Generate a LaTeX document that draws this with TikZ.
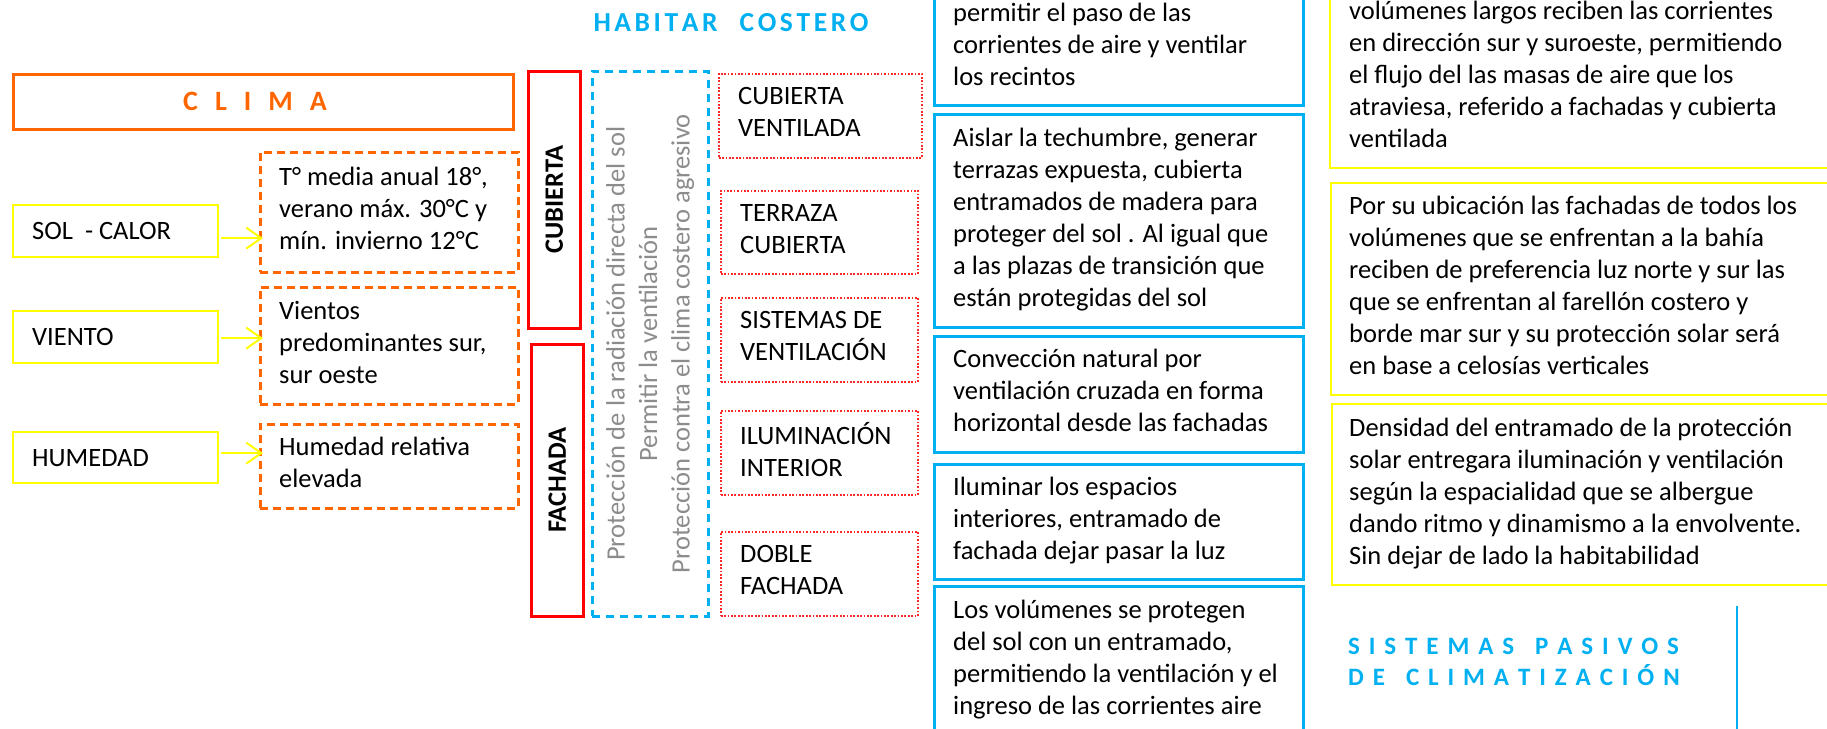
\documentclass[tikz,border=0pt]{standalone}
\usepackage{fontspec}
\setmainfont{Carlito}
\usetikzlibrary{arrows.meta,calc}
\definecolor{cblue}{RGB}{0,176,240}
\definecolor{corange}{RGB}{255,102,0}
\definecolor{cyellow}{RGB}{255,255,0}
\definecolor{cred}{RGB}{255,0,0}
\definecolor{cdot}{RGB}{255,40,40}
\definecolor{cgrey}{RGB}{140,140,140}
\newcommand\bodyfont{\fontsize{26.5}{32}\selectfont}
\newcommand\tk[1]{\kern#1pt\relax}
\tikzset{
  box/.style={draw, inner sep=0pt, anchor=north west, rectangle},
  climabox/.style={box, draw=corange, line width=2.5pt},
  dashbox/.style={box, draw=corange, line width=2.5pt, dash pattern=on 8pt off 5pt},
  ybox/.style={box, draw=cyellow, line width=2.2pt},
  rbox/.style={box, draw=cred, line width=2.5pt},
  bdash/.style={box, draw=cblue, line width=2.5pt, dash pattern=on 8pt off 6pt},
  dotbox/.style={box, draw=cdot, line width=1.7pt, dash pattern=on 1.7pt off 1.7pt},
  bbox/.style={box, draw=cblue, line width=3pt},
  txt/.style={anchor=west, inner sep=0pt, align=left, font=\bodyfont,
    execute at begin node=\strut, execute at end node=\strut},
  arr/.style={draw=cyellow, line width=2pt, shorten >=-4pt,
    -{Straight Barb[length=15pt,width=21pt,line width=2pt]}},
}
\begin{document}
\begin{tikzpicture}[x=1pt,y=-1pt]
\useasboundingbox (0,0) rectangle (1827,728);
\fill[white] (0,0) rectangle (1827,728);
\clip (0,0) rectangle (1827,728);

% titles
\node[font=\bfseries\fontsize{27.5}{32}\selectfont, text=cblue, inner sep=0pt] (habitar) at (731,23)
  {H\tk{3.6}A\tk{3.6}B\tk{3.6}I\tk{3.6}T\tk{3.6}A\tk{3.6}R\tk{22}C\tk{3.6}O\tk{3.6}S\tk{3.6}T\tk{3.6}E\tk{3.6}R\tk{3.6}O};

% CLIMA
\node[climabox, minimum width=500, minimum height=55] (clima) at (12,73) {};
\node[font=\bfseries\fontsize{28}{32}\selectfont, text=corange, inner sep=0pt] (climat) at (255,101)
  {C\tk{17}L\tk{17}I\tk{17}M\tk{17}A};

% left yellow boxes
\node[ybox, minimum width=205, minimum height=52] (sol) at (12,204) {};
\node[txt] (solt) at ([xshift=20pt,yshift=-2pt]sol.west) {SOL~~- CALOR};
\node[ybox, minimum width=205, minimum height=52] (viento) at (12,310) {};
\node[txt] (vientot) at ([xshift=20pt,yshift=-2pt]viento.west) {VIENTO};
\node[ybox, minimum width=205, minimum height=51] (humedad) at (12,431) {};
\node[txt] (humedadt) at ([xshift=20pt,yshift=-2pt]humedad.west) {HUMEDAD};

% orange dashed boxes
\node[dashbox, minimum width=258, minimum height=120] (tbox) at (259,151) {};
\node[txt] (tboxt) at ([xshift=20pt,yshift=-1pt]tbox.west) {T° media anual 18°,\\verano máx. 30°C y\\mín. invierno 12°C};
\node[dashbox, minimum width=258, minimum height=117] (vbox) at (259,286) {};
\node[txt] (vboxt) at ([xshift=20pt,yshift=-1pt]vbox.west) {Vientos\\predominantes sur,\\sur oeste};
\node[dashbox, minimum width=258, minimum height=84] (hbox) at (259,423) {};
\node[txt] (hboxt) at ([xshift=20pt,yshift=-1pt]hbox.west) {Humedad relativa\\elevada};

% arrows
\draw[arr] ([xshift=2pt,yshift=-7pt]sol.east) -- ([yshift=-7pt]sol.east -| tbox.west);
\draw[arr] ([xshift=2pt,yshift=-1pt]viento.east) -- ([yshift=-1pt]viento.east -| vbox.west);
\draw[arr] ([xshift=2pt,yshift=4.5pt]humedad.east) -- ([yshift=4.5pt]humedad.east -| hbox.west);

% red boxes
\node[rbox, minimum width=52, minimum height=257] (cub) at (527,70) {};
\node[rotate=90, font=\bfseries\bodyfont, inner sep=0pt] (cubt) at (cub.center) {CUBIERTA};
\node[rbox, minimum width=52, minimum height=272] (fach) at (530,343) {};
\node[rotate=90, font=\bfseries\bodyfont, inner sep=0pt] (facht) at (fach.center) {FACHADA};

% blue dashed box with grey text
\node[bdash, minimum width=116, minimum height=545] (bd) at (591,70) {};
\node[rotate=90, align=center, font=\fontsize{26.5}{32.5}\selectfont, text=cgrey, inner sep=0pt] (bdt) at (bd.center)
  {Protección de la radiación directa del sol\\Permitir la ventilación\\Protección contra el clima costero agresivo};

% red dotted boxes
\node[dotbox, minimum width=203, minimum height=84] (d1) at (718,73) {};
\node[txt] (d1t) at ([xshift=20pt,yshift=-1pt]d1.west) {CUBIERTA\\VENTILADA};
\node[dotbox, minimum width=197, minimum height=83] (d2) at (720,190) {};
\node[txt] (d2t) at ([xshift=20pt,yshift=-1pt]d2.west) {TERRAZA\\CUBIERTA};
\node[dotbox, minimum width=197, minimum height=84] (d3) at (720,297) {};
\node[txt] (d3t) at ([xshift=20pt,yshift=-1pt]d3.west) {SISTEMAS DE\\VENTILACIÓN};
\node[dotbox, minimum width=197, minimum height=84] (d4) at (720,410) {};
\node[txt] (d4t) at ([xshift=20pt,yshift=-1pt]d4.west) {ILUMINACIÓN\\INTERIOR};
\node[dotbox, minimum width=197, minimum height=84] (d5) at (720,531) {};
\node[txt] (d5t) at ([xshift=20pt,yshift=-1pt]d5.west) {DOBLE\\FACHADA};

% blue solid boxes
\node[bbox, minimum width=369, minimum height=204] (b1) at (933,-100) {};
\node[txt] (b1t) at (953,48.6) {permitir el paso de las\\corrientes de aire y ventilar\\los recintos};
\node[bbox, minimum width=369, minimum height=213] (b2) at (933,113) {};
\node[txt] (b2t) at ([xshift=20pt,yshift=-1pt]b2.west) {Aislar la techumbre, generar\\terrazas expuesta, cubierta\\entramados de madera para\\proteger del sol . Al igual que\\a las plazas de transición que\\están protegidas del sol};
\node[bbox, minimum width=369, minimum height=116] (b3) at (933,335) {};
\node[txt] (b3t) at ([xshift=20pt,yshift=-1pt]b3.west) {Convección natural por\\ventilación cruzada en forma\\horizontal desde las fachadas};
\node[bbox, minimum width=369, minimum height=115] (b4) at (933,463) {};
\node[txt] (b4t) at ([xshift=20pt,yshift=-1pt]b4.west) {Iluminar los espacios\\interiores, entramado de\\fachada dejar pasar la luz};
\node[bbox, minimum width=369, minimum height=200] (b5) at (933,585) {};
\node[txt] (b5t) at (953,661.6) {Los volúmenes se protegen\\del sol con un entramado,\\permitiendo la ventilación y el\\ingreso de las corrientes aire};

% yellow boxes right
\node[ybox, minimum width=560, minimum height=267] (y1) at (1329,-100) {};
\node[txt] (y1t) at (1349,78.6) {volúmenes largos reciben las corrientes\\en dirección sur y suroeste, permitiendo\\el flujo del las masas de aire que los\\atraviesa, referido a fachadas y cubierta\\ventilada};
\node[ybox, minimum width=560, minimum height=212] (y2) at (1330,182) {};
\node[txt] (y2t) at ([xshift=19pt,yshift=-1pt]y2.west) {Por su ubicación las fachadas de todos los\\volúmenes que se enfrentan a la bahía\\reciben de preferencia luz norte y sur las\\que se enfrentan al farellón costero y\\borde mar sur y su protección solar será\\en base a celosías verticales};
\node[ybox, minimum width=560, minimum height=181] (y3) at (1331,403) {};
\node[txt] (y3t) at ([xshift=18pt,yshift=-1pt]y3.west) {Densidad del entramado de la protección\\solar entregara iluminación y ventilación\\según la espacialidad que se albergue\\dando ritmo y dinamismo a la envolvente.\\Sin dejar de lado la habitabilidad};

% sistemas pasivos
\node[anchor=west, align=left, inner sep=0pt, font=\bfseries\fontsize{25}{31}\selectfont, text=cblue] (sis) at (1348,662)
  {S\tk{8.9}I\tk{8.9}S\tk{8.9}T\tk{8.9}E\tk{8.9}M\tk{8.9}A\tk{8.9}S\tk{21}P\tk{8.9}A\tk{8.9}S\tk{8.9}I\tk{8.9}V\tk{8.9}O\tk{8.9}S\\
   D\tk{8.9}E\tk{21}C\tk{8.9}L\tk{8.9}I\tk{8.9}M\tk{8.9}A\tk{8.9}T\tk{8.9}I\tk{8.9}Z\tk{8.9}A\tk{8.9}C\tk{8.9}I\tk{8.9}Ó\tk{8.9}N};
\coordinate (vl1) at (1737,606);
\coordinate (vl2) at (1737,740);
\draw[cblue, line width=2.5pt] (vl1) -- (vl2);
\end{tikzpicture}
\end{document}
